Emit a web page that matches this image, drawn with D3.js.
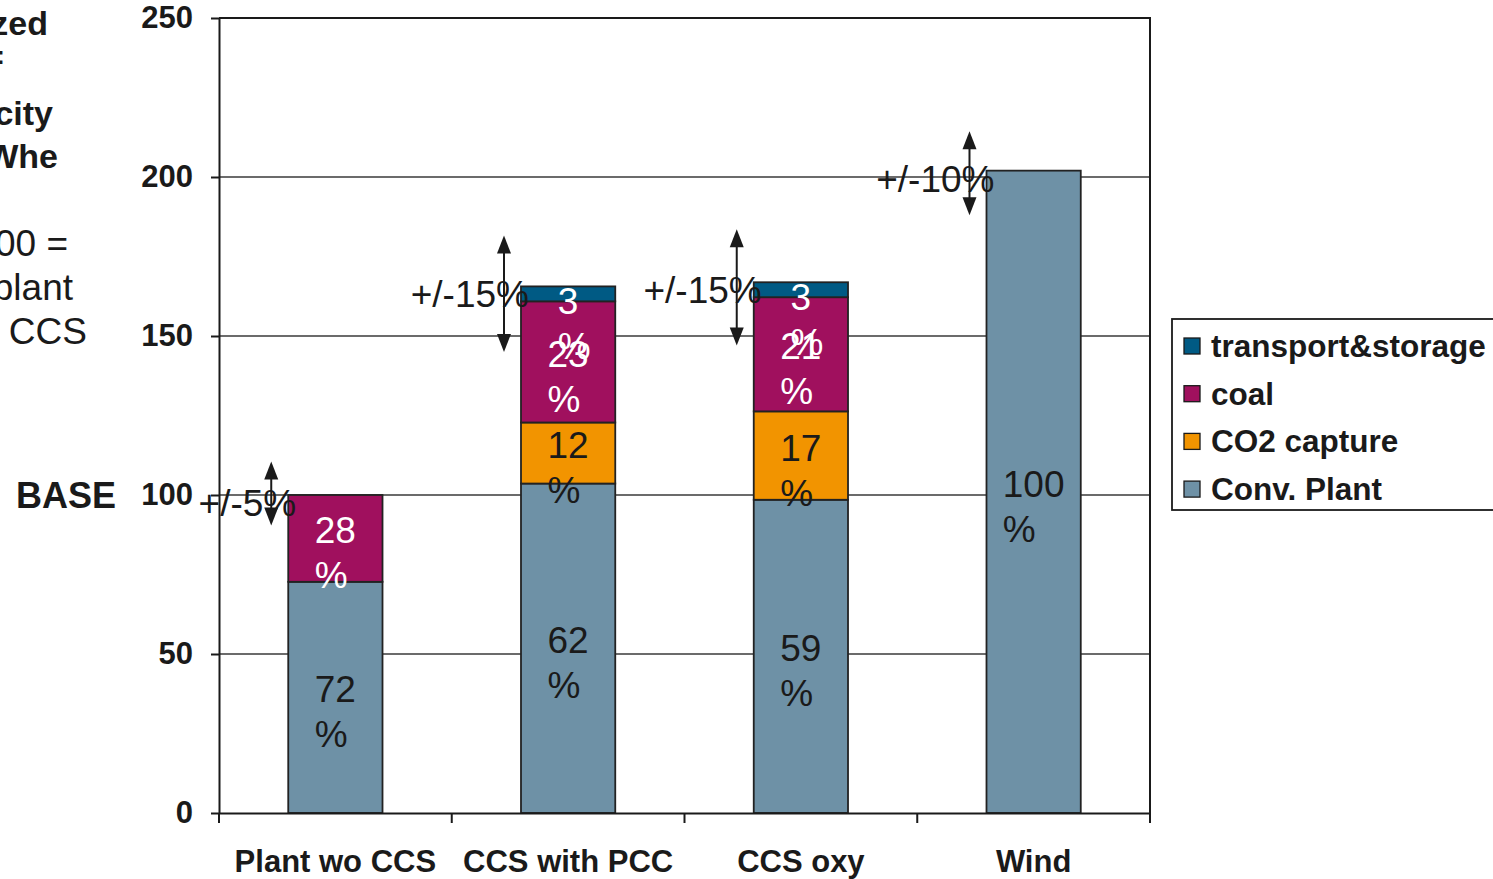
<!DOCTYPE html>
<html>
<head>
<meta charset="utf-8">
<script src="https://cdn.jsdelivr.net/npm/d3@7"></script>
<style>
  html, body { margin: 0; padding: 0; background: #fff; overflow: hidden; }
  svg { display: block; font-family: "Liberation Sans", Arial, sans-serif; }
</style>
</head>
<body>
<svg id="chart" width="1493" height="879"></svg>
<script>
// ---------- data ----------
const categories = ["Plant wo CCS", "CCS with PCC", "CCS oxy", "Wind"];
const seriesNames = ["Conv. Plant", "CO2 capture", "coal", "transport&storage"];
const convPlant = [72.7, 103.6, 98.5, 202];
const co2Capture = [0, 19.2, 27.8, 0];
const coal = [27.3, 38.1, 35.9, 0];
const transport = [0, 4.7, 4.7, 0];
const convPct = [72, 62, 59, 100];
const capturePct = [null, 12, 17, null];
const coalPct = [28, 23, 21, null];
const transportPct = [null, 3, 3, null];
const errLabels = ["+/-5%", "+/-15%", "+/-15%", "+/-10%"];
const errHigh = [110.5, 181.6, 183.6, 214.4];
const errLow = [90.4, 145, 147, 188];
const yTicks = [0, 50, 100, 150, 200, 250];

(function () {
const colors = {
  "Conv. Plant": "#6e91a6",
  "CO2 capture": "#f29400",
  "coal": "#a0105e",
  "transport&storage": "#005a84"
};
const labelColors = {
  "Conv. Plant": "#1a1a1a",
  "CO2 capture": "#1a1a1a",
  "coal": "#ffffff",
  "transport&storage": "#ffffff"
};
const seriesValues = [convPlant, co2Capture, coal, transport];
const seriesPct = [convPct, capturePct, coalPct, transportPct];

const svg = d3.select("#chart");
const pL = 219, pR = 1150, pT = 18, pB = 813;
const x = d3.scaleBand().domain(categories).range([pL, pR]).padding(0);
const y = d3.scaleLinear().domain([0, 250]).range([pB, pT]);
const barW = x.bandwidth() * 0.405;
const barX = c => x(c) + (x.bandwidth() - barW) / 2;
const barC = c => x(c) + x.bandwidth() / 2;

const table = categories.map((c, i) => {
  const o = { cat: c };
  seriesNames.forEach((s, k) => { o[s] = seriesValues[k][i]; });
  return o;
});
const stacked = d3.stack().keys(seriesNames)(table);

// gridlines
svg.append("g").selectAll("line").data(yTicks.filter(t => t > 0 && t < 250)).join("line")
  .attr("x1", pL).attr("x2", pR)
  .attr("y1", d => y(d)).attr("y2", d => y(d))
  .attr("stroke", "#3a3a3a").attr("stroke-width", 1.5);

// plot frame (top and right)
svg.append("path")
  .attr("d", `M${pL},${y(250)}H${pR}V${y(0)}`)
  .attr("fill", "none").attr("stroke", "#1a1a1a").attr("stroke-width", 2);

// y axis
const yAxis = svg.append("g").attr("transform", `translate(${pL},0)`)
  .call(d3.axisLeft(y).tickValues(yTicks).tickSize(8).tickPadding(18).tickSizeOuter(0));
yAxis.select(".domain").attr("stroke", "#1a1a1a").attr("stroke-width", 2);
yAxis.selectAll(".tick line").attr("stroke", "#1a1a1a").attr("stroke-width", 2);
yAxis.selectAll(".tick text").attr("font-size", 31).attr("font-weight", "bold")
  .attr("fill", "#1a1a1a").attr("font-family", "Liberation Sans, Arial, sans-serif");

// bars
const layers = svg.append("g").selectAll("g").data(stacked).join("g")
  .attr("fill", d => colors[d.key]);
layers.selectAll("rect").data(d => d.filter(p => p[1] - p[0] > 0)).join("rect")
  .attr("x", d => barX(d.data.cat))
  .attr("width", barW)
  .attr("y", d => y(d[1]))
  .attr("height", d => y(d[0]) - y(d[1]))
  .attr("stroke", "#222").attr("stroke-width", 1.8);

// x axis
const xAxis = svg.append("g").attr("transform", `translate(0,${pB})`)
  .call(d3.axisBottom(x).tickSize(0).tickPadding(0).tickFormat(() => ""));
xAxis.select(".domain").attr("stroke", "#1a1a1a").attr("stroke-width", 2);
const bounds = categories.map(c => x(c)).concat([pR]);
svg.append("g").selectAll("line").data(bounds).join("line")
  .attr("x1", d => d).attr("x2", d => d)
  .attr("y1", pB).attr("y2", pB + 10)
  .attr("stroke", "#1a1a1a").attr("stroke-width", 2);
svg.append("g").selectAll("text").data(categories).join("text")
  .attr("x", d => barC(d)).attr("y", 872)
  .attr("text-anchor", "middle").attr("font-size", 31).attr("font-weight", "bold")
  .attr("fill", "#1a1a1a").text(d => d);

// segment labels (two lines: value, %)
const labelG = svg.append("g");
stacked.forEach((layer, k) => {
  layer.forEach((p, i) => {
    const pct = seriesPct[k][i];
    if (pct == null) return;
    const yTop = y(p[1]), yBot = y(p[0]);
    const mid = (yTop + yBot) / 2;
    const lineC = Math.max(mid - 8, yTop + 15);
    const cx = barC(categories[i]);
    const t = labelG.append("text")
      .attr("font-size", 37).attr("fill", labelColors[layer.key]);
    const num = t.append("tspan").attr("x", cx).attr("y", lineC + 13).attr("text-anchor", "middle").text(pct);
    const w = num.node().getComputedTextLength();
    t.append("tspan").attr("x", cx - w / 2).attr("y", lineC + 13 + 45).attr("text-anchor", "start").text("%");
  });
});

// error arrows
const arrowG = svg.append("g");
categories.forEach((c, i) => {
  const ax = barX(c) - 17;
  const yh = y(errHigh[i]), yl = y(errLow[i]);
  arrowG.append("line").attr("x1", ax).attr("x2", ax).attr("y1", yh + 14).attr("y2", yl - 14)
    .attr("stroke", "#1a1a1a").attr("stroke-width", 2);
  arrowG.append("path").attr("d", `M${ax},${yh}L${ax - 7},${yh + 18}L${ax + 7},${yh + 18}Z`).attr("fill", "#1a1a1a");
  arrowG.append("path").attr("d", `M${ax},${yl}L${ax - 7},${yl - 18}L${ax + 7},${yl - 18}Z`).attr("fill", "#1a1a1a");
  const total = convPlant[i] + co2Capture[i] + coal[i] + transport[i];
  arrowG.append("text").attr("x", ax + 25).attr("y", y(total) + 8 + 13)
    .attr("text-anchor", "end").attr("font-size", 37).attr("fill", "#1a1a1a").text(errLabels[i]);
});

// legend
const legendItems = seriesNames.slice().reverse();
const lg = svg.append("g");
lg.append("rect").attr("x", 1172).attr("y", 319).attr("width", 340).attr("height", 191)
  .attr("fill", "#fff").attr("stroke", "#1a1a1a").attr("stroke-width", 1.8);
legendItems.forEach((s, i) => {
  const cy = 346 + i * 47.7;
  lg.append("rect").attr("x", 1184).attr("y", cy - 8).attr("width", 16).attr("height", 16)
    .attr("fill", colors[s]).attr("stroke", "#1a1a1a").attr("stroke-width", 1.3);
  lg.append("text").attr("x", 1211).attr("y", cy + 11).attr("font-size", 31.5).attr("font-weight", "bold")
    .attr("fill", "#1a1a1a").text(s);
});

// BASE label
svg.append("text").attr("x", 116).attr("y", y(100) + 13).attr("text-anchor", "end")
  .attr("font-size", 36).attr("font-weight", "bold").attr("fill", "#1a1a1a").text("BASE");

// left title (clipped at the page edge)
const titleLines = [
  { t: "Normalized", x: 48, y: 35, b: true, fs: 34 },
  { t: "cost:", x: 5, y: 64, b: true, fs: 26 },
  { t: "electricity", x: 53, y: 125, b: true, fs: 34 },
  { t: "€/MWhe", x: 58, y: 168, b: true, fs: 34 },
  { t: "100 =", x: 68, y: 256, b: false, fs: 37 },
  { t: "plant", x: 73, y: 300, b: false, fs: 37 },
  { t: "without CCS", x: 87, y: 344, b: false, fs: 37 }
];
svg.append("g").selectAll("text").data(titleLines).join("text")
  .attr("x", d => d.x).attr("y", d => d.y).attr("text-anchor", "end")
  .attr("font-size", d => d.fs).attr("font-weight", d => d.b ? "bold" : "normal")
  .attr("fill", "#1a1a1a").text(d => d.t);
})();
</script>
</body>
</html>
